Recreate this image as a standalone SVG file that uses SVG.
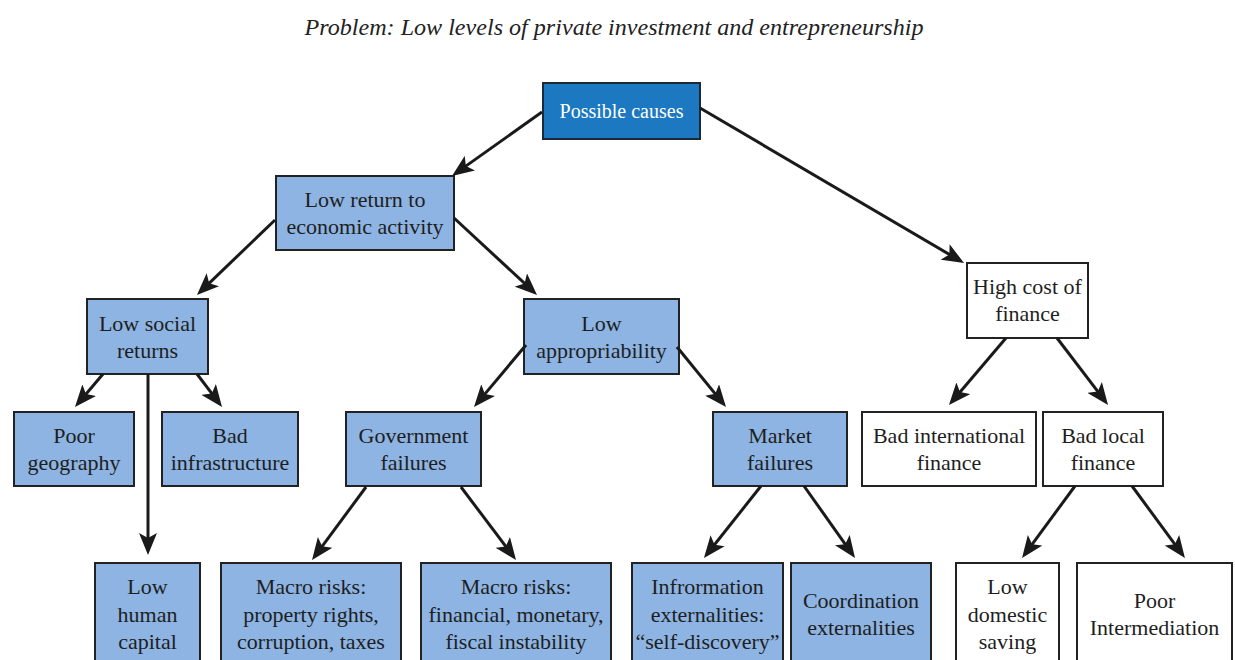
<svg xmlns="http://www.w3.org/2000/svg" width="1235" height="660" viewBox="0 0 1235 660">
<defs>
<style>
.box{fill:#8db4e2;stroke:#222;stroke-width:2}
.wbox{fill:#fff;stroke:#222;stroke-width:2}
.root{fill:#1b78c1;stroke:#1a2a3a;stroke-width:2}
.t{font-family:"Liberation Serif","Times New Roman",serif;font-size:22px;fill:#1e1e1e;text-anchor:middle}
.rt{font-family:"Liberation Serif","Times New Roman",serif;font-size:20px;fill:#fff;text-anchor:middle}
.title{font-family:"Liberation Serif","Times New Roman",serif;font-size:24px;font-style:italic;fill:#222;text-anchor:middle}
.c line{stroke:#1a1a1a;stroke-width:3;marker-end:url(#ah)}
</style>
<marker id="ah" markerUnits="userSpaceOnUse" markerWidth="22" markerHeight="18" viewBox="0 0 22 18" refX="15" refY="9" orient="auto">
<path d="M0,0 L22,9 L0,18 L5,9 z" fill="#1a1a1a"/>
</marker>
</defs>
<rect width="1235" height="660" fill="#fff"/>
<text class="title" x="614" y="35" textLength="619" lengthAdjust="spacingAndGlyphs">Problem: Low levels of private investment and entrepreneurship</text>

<g id="n-possible"><rect class="root" x="543" y="83" width="157" height="56"/><text class="rt" x="621.5" y="118">Possible causes</text></g>
<g id="n-lowreturn"><rect class="box" x="276" y="176" width="178" height="74"/><text class="t" x="365" y="207">Low return to</text><text class="t" x="365" y="234">economic activity</text></g>
<g id="n-lowsocial"><rect class="box" x="87" y="299" width="121" height="75"/><text class="t" x="147.5" y="331">Low social</text><text class="t" x="147.5" y="358">returns</text></g>
<g id="n-lowapprop"><rect class="box" x="524" y="299" width="155" height="75"/><text class="t" x="601.5" y="331">Low</text><text class="t" x="601.5" y="358">appropriability</text></g>
<g id="n-highcost"><rect class="wbox" x="967" y="263" width="121" height="75"/><text class="t" x="1027.5" y="294">High cost of</text><text class="t" x="1027.5" y="321">finance</text></g>

<g id="n-poorgeo"><rect class="box" x="14" y="412" width="120" height="74"/><text class="t" x="74" y="443">Poor</text><text class="t" x="74" y="470">geography</text></g>
<g id="n-badinfra"><rect class="box" x="162" y="412" width="136" height="74"/><text class="t" x="230" y="443">Bad</text><text class="t" x="230" y="470">infrastructure</text></g>
<g id="n-govfail"><rect class="box" x="346" y="412" width="135" height="74"/><text class="t" x="413.5" y="443">Government</text><text class="t" x="413.5" y="470">failures</text></g>
<g id="n-marketfail"><rect class="box" x="713" y="412" width="134" height="74"/><text class="t" x="780" y="443">Market</text><text class="t" x="780" y="470">failures</text></g>
<g id="n-badintl"><rect class="wbox" x="862" y="412" width="174" height="74"/><text class="t" x="949" y="443">Bad international</text><text class="t" x="949" y="470">finance</text></g>
<g id="n-badlocal"><rect class="wbox" x="1043" y="412" width="120" height="74"/><text class="t" x="1103" y="443">Bad local</text><text class="t" x="1103" y="470">finance</text></g>

<g id="n-lowhuman"><rect class="box" x="95" y="563" width="105" height="110"/><text class="t" x="147.5" y="594">Low</text><text class="t" x="147.5" y="621.5">human</text><text class="t" x="147.5" y="649">capital</text></g>
<g id="n-macro1"><rect class="box" x="221" y="563" width="180" height="110"/><text class="t" x="311" y="594">Macro risks:</text><text class="t" x="311" y="621.5">property rights,</text><text class="t" x="311" y="649">corruption, taxes</text></g>
<g id="n-macro2"><rect class="box" x="421" y="563" width="190" height="110"/><text class="t" x="516" y="594">Macro risks:</text><text class="t" x="516" y="621.5">financial, monetary,</text><text class="t" x="516" y="649">fiscal instability</text></g>
<g id="n-info"><rect class="box" x="632" y="563" width="151" height="110"/><text class="t" x="707.5" y="594">Infrormation</text><text class="t" x="707.5" y="621.5">externalities:</text><text class="t" x="707.5" y="649">“self-discovery”</text></g>
<g id="n-coord"><rect class="box" x="791" y="563" width="140" height="110"/><text class="t" x="861" y="608">Coordination</text><text class="t" x="861" y="635">externalities</text></g>
<g id="n-lowdom"><rect class="wbox" x="956" y="563" width="103" height="110"/><text class="t" x="1007.5" y="594">Low</text><text class="t" x="1007.5" y="621.5">domestic</text><text class="t" x="1007.5" y="649">saving</text></g>
<g id="n-poorint"><rect class="wbox" x="1077" y="563" width="155" height="110"/><text class="t" x="1154.5" y="608">Poor</text><text class="t" x="1154.5" y="635">Intermediation</text></g>

<g id="connectors" class="c">
<line x1="542" y1="112" x2="457.7" y2="171.9"/>
<line x1="700" y1="108" x2="958" y2="259.5"/>
<line x1="275" y1="220" x2="202" y2="290.1"/>
<line x1="454" y1="218" x2="531.9" y2="290.2"/>
<line x1="103" y1="374" x2="79.5" y2="401.7"/>
<line x1="148" y1="374" x2="148" y2="548"/>
<line x1="197" y1="374" x2="217.8" y2="401.4"/>
<line x1="526" y1="345" x2="478.5" y2="401.6"/>
<line x1="677" y1="347" x2="721.6" y2="401.6"/>
<line x1="1006" y1="338" x2="953.5" y2="399.7"/>
<line x1="1057" y1="338" x2="1103.8" y2="399.4"/>
<line x1="366" y1="487" x2="316.2" y2="554.4"/>
<line x1="461" y1="487" x2="511.8" y2="554.4"/>
<line x1="761" y1="486" x2="708.3" y2="552.5"/>
<line x1="804" y1="486" x2="851" y2="552.3"/>
<line x1="1075" y1="486" x2="1026.2" y2="552.4"/>
<line x1="1132" y1="486" x2="1180.8" y2="552.4"/>
</g>
</svg>
